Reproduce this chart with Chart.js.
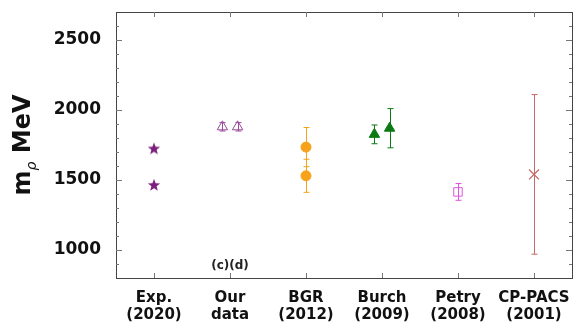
<!DOCTYPE html>
<html>
<head>
<meta charset="utf-8">
<script src="https://cdn.jsdelivr.net/npm/chart.js@4.4.1/dist/chart.umd.min.js"></script>
<style>
  body { margin: 0; background: #fff; }
</style>
</head>
<body>
<canvas id="chart" width="585" height="327"></canvas>
<script>
// categories along the bottom
const categories = [
  ["Exp.", "(2020)"],
  ["Our", "data"],
  ["BGR", "(2012)"],
  ["Burch", "(2009)"],
  ["Petry", "(2008)"],
  ["CP-PACS", "(2001)"]
];

// masses in MeV and their errors
const expMass = [1725, 1465];
const ourMass = [1880, 1880];
const ourErr = [30, 30];
const bgrMass = [1735, 1530];
const bgrErr = [140, 118];
const burchMass = [1826, 1870];
const burchErr = [67, 140];
const petryMass = [1415];
const petryErr = [60];
const cppacsMass = [1540];
const cppacsErr = [570];

// y ticks
const yMin = 800;
const yMax = 2700;
const yMajor = [1000, 1500, 2000, 2500];

const colors = {
  exp: "#7b1f7d",
  our: "#9a4a9c",
  bgr: "#f7a21b",
  burch: "#0b7a12",
  petry: "#df55df",
  cppacs: "#c46a66"
};

// filled five-pointed star for the experimental points
function makeStar(color) {
  const c = document.createElement("canvas");
  c.width = 14;
  c.height = 14;
  const g = c.getContext("2d");
  g.fillStyle = color;
  g.beginPath();
  for (let i = 0; i < 10; i++) {
    const r = i % 2 === 0 ? 6.5 : 2.7;
    const a = -Math.PI / 2 + i * Math.PI / 5;
    const px = 7 + r * Math.cos(a);
    const py = 7.5 + r * Math.sin(a);
    if (i === 0) g.moveTo(px, py); else g.lineTo(px, py);
  }
  g.closePath();
  g.fill();
  return c;
}

function points(cat, masses, errs, offsets) {
  return masses.map((m, i) => ({
    x: cat + (offsets ? offsets[i] : 0),
    y: m,
    err: errs ? errs[i] : 0
  }));
}

// vertical error bars with caps
const errorBars = {
  id: "errorBars",
  beforeDatasetsDraw(chart) {
    const ctx = chart.ctx;
    const xs = chart.scales.x, ys = chart.scales.y;
    chart.data.datasets.forEach(ds => {
      ds.data.forEach(p => {
        if (!p.err) return;
        const x = Math.round(xs.getPixelForValue(p.x)) + 0.5;
        const y1 = ys.getPixelForValue(p.y + p.err);
        const y2 = ys.getPixelForValue(p.y - p.err);
        ctx.save();
        ctx.strokeStyle = ds.borderColor;
        ctx.lineWidth = 1;
        ctx.beginPath();
        ctx.moveTo(x, y1); ctx.lineTo(x, y2);
        ctx.moveTo(x - 3, y1); ctx.lineTo(x + 3, y1);
        ctx.moveTo(x - 3, y2); ctx.lineTo(x + 3, y2);
        ctx.stroke();
        ctx.restore();
      });
    });
  }
};

// frame, inward ticks, y title and the (c)(d) note
const frame = {
  id: "frame",
  afterDraw(chart) {
    const ctx = chart.ctx;
    const a = chart.chartArea;
    const xs = chart.scales.x, ys = chart.scales.y;
    ctx.save();
    ctx.strokeStyle = "#444";
    ctx.lineWidth = 1;
    ctx.strokeRect(Math.round(a.left) + 0.5, Math.round(a.top) + 0.5,
      Math.round(a.right - a.left), Math.round(a.bottom - a.top));
    ctx.strokeStyle = "#777";
    ctx.beginPath();
    for (let v = 900; v < yMax; v += 100) {
      const y = Math.round(ys.getPixelForValue(v)) + 0.5;
      const len = yMajor.includes(v) ? 6 : 3;
      ctx.moveTo(a.left, y); ctx.lineTo(a.left + len, y);
      ctx.moveTo(a.right, y); ctx.lineTo(a.right - len, y);
    }
    categories.forEach((c, i) => {
      const x = Math.round(xs.getPixelForValue(i)) + 0.5;
      ctx.moveTo(x, a.bottom); ctx.lineTo(x, a.bottom - 5);
      ctx.moveTo(x, a.top); ctx.lineTo(x, a.top + 5);
    });
    ctx.stroke();

    // y axis title: m_rho MeV
    ctx.fillStyle = "#111";
    ctx.translate(30, (a.top + a.bottom) / 2);
    ctx.rotate(-Math.PI / 2);
    ctx.textBaseline = "alphabetic";
    ctx.font = "bold 24px 'DejaVu Sans'";
    const mW = ctx.measureText("m").width;
    ctx.font = "italic 14px 'DejaVu Sans'";
    const rW = ctx.measureText("\u03c1").width;
    ctx.font = "bold 24px 'DejaVu Sans'";
    const restW = ctx.measureText(" MeV").width;
    let x0 = -(mW + rW + restW) / 2;
    ctx.fillText("m", x0, 0);
    ctx.font = "italic 14px 'DejaVu Sans'";
    ctx.fillText("\u03c1", x0 + mW, 6);
    ctx.font = "bold 24px 'DejaVu Sans'";
    ctx.fillText(" MeV", x0 + mW + rW, 0);
    ctx.restore();

    ctx.save();
    ctx.fillStyle = "#222";
    ctx.font = "bold 12px 'DejaVu Sans'";
    ctx.textAlign = "center";
    ctx.textBaseline = "middle";
    ctx.fillText("(c)(d)", xs.getPixelForValue(1), a.bottom - 12);
    ctx.restore();
  }
};

new Chart(document.getElementById("chart"), {
  type: "scatter",
  data: {
    datasets: [
      {
        data: points(0, expMass, null),
        pointStyle: makeStar(colors.exp),
        borderColor: colors.exp,
        backgroundColor: colors.exp
      },
      {
        data: points(1, ourMass, ourErr, [-0.1, 0.1]),
        pointStyle: "triangle",
        pointRadius: 6,
        borderWidth: 1,
        borderColor: colors.our,
        backgroundColor: "rgba(255,255,255,0)"
      },
      {
        data: points(2, bgrMass, bgrErr),
        pointStyle: "circle",
        pointRadius: 5,
        borderColor: colors.bgr,
        backgroundColor: colors.bgr
      },
      {
        data: points(3, burchMass, burchErr, [-0.1, 0.1]),
        pointStyle: "triangle",
        pointRadius: 6,
        borderColor: colors.burch,
        backgroundColor: colors.burch
      },
      {
        data: points(4, petryMass, petryErr),
        pointStyle: "rect",
        pointRadius: 6,
        borderWidth: 1,
        borderColor: colors.petry,
        backgroundColor: "rgba(255,255,255,0)"
      },
      {
        data: points(5, cppacsMass, cppacsErr),
        pointStyle: "crossRot",
        pointRadius: 7,
        borderWidth: 1.3,
        borderColor: colors.cppacs,
        backgroundColor: colors.cppacs
      }
    ]
  },
  options: {
    responsive: false,
    animation: false,
    layout: { padding: { top: 12, right: 13, left: 0, bottom: 0 } },
    plugins: {
      legend: { display: false },
      tooltip: { enabled: false }
    },
    scales: {
      x: {
        type: "linear",
        min: -0.5,
        max: categories.length - 0.5,
        grid: { display: false, drawTicks: false },
        border: { display: false },
        afterBuildTicks(scale) {
          scale.ticks = categories.map((c, i) => ({ value: i }));
        },
        afterFit(scale) {
          scale.height = 49;
          scale.paddingLeft = 0;
          scale.paddingRight = 0;
        },
        ticks: {
          autoSkip: false,
          maxRotation: 0,
          padding: 11,
          color: "#111",
          font: { family: "'DejaVu Sans'", size: 15, weight: "bold", lineHeight: 1.15 },
          callback: v => categories[v]
        }
      },
      y: {
        min: yMin,
        max: yMax,
        grid: { display: false, drawTicks: false },
        border: { display: false },
        afterBuildTicks(scale) {
          scale.ticks = yMajor.map(v => ({ value: v }));
        },
        afterFit(scale) {
          scale.width = 116;
          scale.paddingTop = 0;
          scale.paddingBottom = 0;
        },
        ticks: {
          padding: 15,
          color: "#111",
          font: { family: "'DejaVu Sans'", size: 17, weight: "bold" },
          callback: v => String(v)
        }
      }
    }
  },
  plugins: [errorBars, frame]
});
</script>
</body>
</html>
